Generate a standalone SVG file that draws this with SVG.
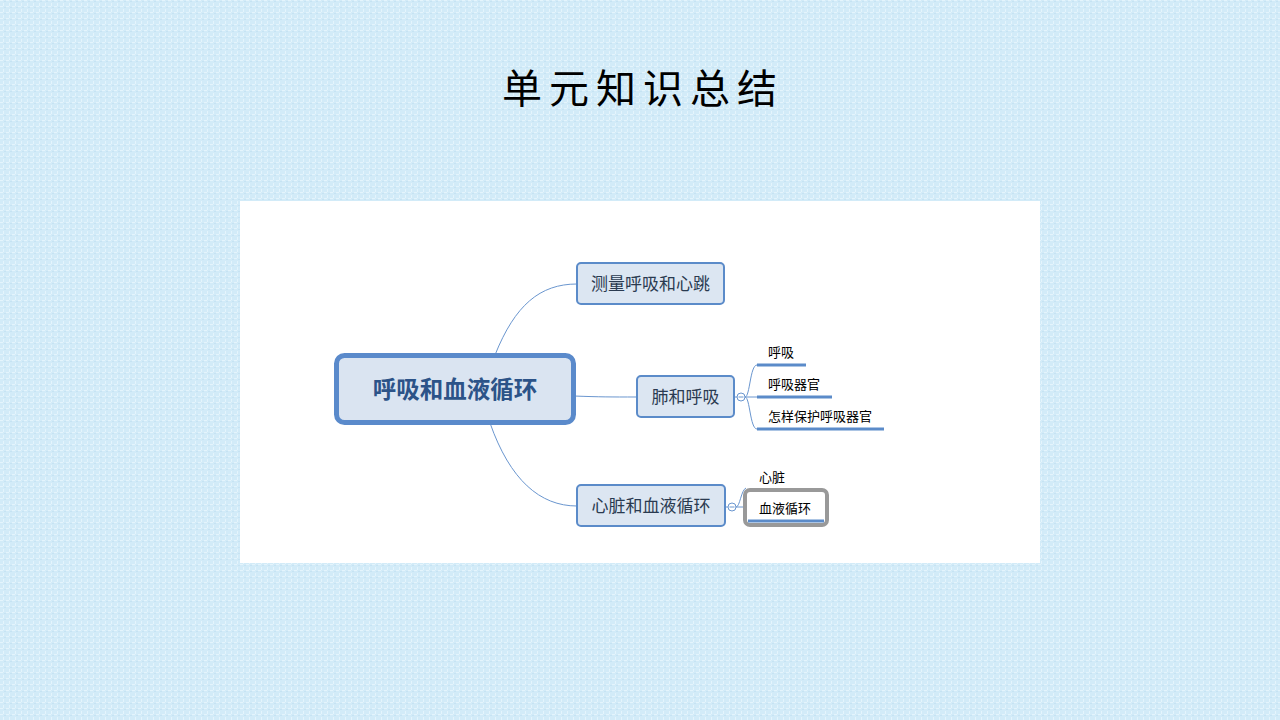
<svg xmlns="http://www.w3.org/2000/svg" width="1280" height="720" viewBox="0 0 1280 720">
<defs>
<pattern id="tex" width="6" height="6" patternUnits="userSpaceOnUse">
<rect width="6" height="6" fill="#d2ebf8"/>
<rect x="0" y="0" width="3" height="1" fill="#e4f4fc"/>
<rect x="3" y="3" width="1" height="3" fill="#e4f4fc"/>
<rect x="4" y="1" width="2" height="1" fill="#c6e3f3"/>
</pattern>
<style>
.title{font-family:"Noto Sans CJK SC","Noto Sans CJK JP",sans-serif;font-size:40px;fill:#000;letter-spacing:7px}
.main{fill:#dae4f1;stroke:#5a8acb;stroke-width:5}
.mainT{font-family:"Noto Sans CJK SC",sans-serif;font-size:23.5px;font-weight:bold;fill:#2c5388}
.sub{fill:#dce6f2;stroke:#5b8bc9;stroke-width:2}
.subT{font-family:"Noto Sans CJK SC",sans-serif;font-size:17px;fill:#2a3a50}
.leafT{font-family:"Noto Sans CJK SC",sans-serif;font-size:13px;fill:#000}
.ul{stroke:#5b8bc9;stroke-width:3}
.con{fill:none;stroke:#6a96cf;stroke-width:1}
.col{fill:#fff;stroke:#6a96cf;stroke-width:1}
</style>
</defs>
<rect width="1280" height="720" fill="url(#tex)"/>
<text class="title" x="643" y="103" text-anchor="middle">单元知识总结</text>
<rect x="240" y="201" width="800" height="362" fill="#fff"/>

<g id="connectors">
<path class="con" d="M495,355 C515,305 540,284 577,284"/>
<path class="con" d="M574,396 C600,397 610,397 637,397"/>
<path class="con" d="M490,423 C510,480 540,506 577,506"/>
<path class="con" d="M734,397 L737,397"/>
<path class="con" d="M745,397 C750,397 750,365 757,365"/>
<path class="con" d="M745,397 L757,397"/>
<path class="con" d="M745,397 C750,397 750,429 757,429"/>
<path class="con" d="M725,507 L728,507"/>
<path class="con" d="M736,507 C740,507 741,490 746,488"/>
<path class="con" d="M736,507 L744,507"/>
</g>

<g id="node-main">
<rect class="main" x="336.5" y="355.5" width="237" height="67" rx="8"/>
<text class="mainT" x="455" y="398" text-anchor="middle">呼吸和血液循环</text>
</g>
<g id="node-measure">
<rect class="sub" x="577" y="263" width="147" height="41" rx="4"/>
<text class="subT" x="650.5" y="290" text-anchor="middle">测量呼吸和心跳</text>
</g>
<g id="node-lung">
<rect class="sub" x="637" y="376" width="97" height="41" rx="4"/>
<text class="subT" x="685.5" y="403" text-anchor="middle">肺和呼吸</text>
<circle class="col" cx="741" cy="397" r="4"/>
<line x1="738.5" y1="397" x2="743.5" y2="397" stroke="#6a96cf" stroke-width="1"/>
</g>
<g id="node-heart">
<rect class="sub" x="577" y="485" width="148" height="41" rx="4"/>
<text class="subT" x="651" y="512" text-anchor="middle">心脏和血液循环</text>
<circle class="col" cx="732" cy="507" r="4"/>
<line x1="729.5" y1="507" x2="734.5" y2="507" stroke="#6a96cf" stroke-width="1"/>
</g>
<g id="leaf-breath">
<text class="leafT" x="768" y="357">呼吸</text>
<line class="ul" x1="757" y1="365" x2="806" y2="365"/>
</g>
<g id="leaf-organs">
<text class="leafT" x="768" y="389">呼吸器官</text>
<line class="ul" x1="757" y1="397" x2="832" y2="397"/>
</g>
<g id="leaf-protect">
<text class="leafT" x="768" y="421">怎样保护呼吸器官</text>
<line class="ul" x1="757" y1="429" x2="884" y2="429"/>
</g>
<g id="leaf-heart">
<text class="leafT" x="759" y="482">心脏</text>
</g>
<g id="leaf-blood">
<rect x="745" y="490" width="82" height="35" rx="5" fill="#fff" stroke="#999" stroke-width="4"/>
<line class="ul" x1="748" y1="521" x2="824" y2="521"/>
<text class="leafT" x="785" y="513" text-anchor="middle">血液循环</text>
</g>
</svg>
